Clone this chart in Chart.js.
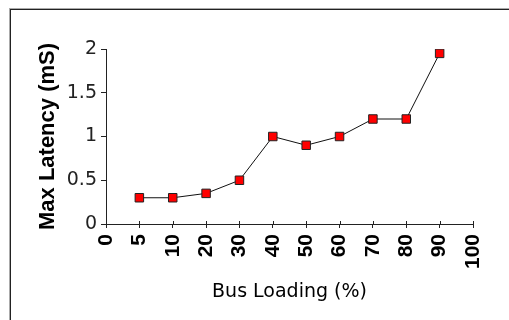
<!DOCTYPE html>
<html>
<head>
<meta charset="utf-8">
<script src="https://cdn.jsdelivr.net/npm/chart.js@4/dist/chart.umd.min.js"></script>
<style>
  html, body { margin: 0; padding: 0; background: #fff; }
  #wrap { position: relative; width: 509px; height: 320px; }
</style>
</head>
<body>
<div id="wrap"><canvas id="latencyChart" width="509" height="320"></canvas></div>
<script>
const busLoading = ['0', '5', '10', '20', '30', '40', '50', '60', '70', '80', '90', '100'];
const maxLatency = [null, 0.3, 0.3, 0.35, 0.5, 1.0, 0.9, 1.0, 1.2, 1.2, 1.95, null];
const yTicks = [0, 0.5, 1, 1.5, 2];

// outer frame, like the old spreadsheet chart box
const framePlugin = {
    id: 'frame',
    beforeDraw(chart) {
        const ctx = chart.ctx;
        ctx.save();
        ctx.fillStyle = '#fff';
        ctx.fillRect(0, 0, chart.width, chart.height);
        ctx.lineWidth = 1;
        ctx.strokeStyle = '#aaa';
        ctx.strokeRect(9.5, 8.5, 700, 500);
        ctx.strokeStyle = '#222';
        ctx.strokeRect(10.5, 9.5, 700, 500);
        ctx.restore();
    },
    afterDraw(chart) {
        // x ticks cross the axis, draw the inner half
        const xs = chart.scales.x;
        const ctx = chart.ctx;
        const y = chart.chartArea.bottom;
        ctx.save();
        ctx.strokeStyle = '#222';
        ctx.lineWidth = 1;
        ctx.beginPath();
        busLoading.forEach((lab, i) => {
            const px = Math.round(xs.getPixelForTick(i)) + 0.5;
            ctx.moveTo(px, y - 3);
            ctx.lineTo(px, y);
        });
        ctx.stroke();
        ctx.restore();
    }
};

new Chart(document.getElementById('latencyChart').getContext('2d'), {
    type: 'line',
    data: {
        labels: busLoading,
        datasets: [{
            label: 'Max Latency',
            data: maxLatency,
            borderColor: '#111',
            borderWidth: 1,
            tension: 0,
            pointStyle: 'rect',
            pointRadius: 6,
            pointHoverRadius: 6,
            pointBackgroundColor: '#ff0000',
            pointBorderColor: '#222',
            pointBorderWidth: 1
        }]
    },
    options: {
        responsive: false,
        animation: false,
        layout: { padding: { left: 0, right: 36, top: 49, bottom: 0 } },
        plugins: {
            legend: { display: false },
            tooltip: { enabled: false }
        },
        scales: {
            x: {
                type: 'category',
                offset: false,
                grid: { display: true, drawOnChartArea: false, tickLength: 4, color: '#222' },
                border: { color: '#222', width: 1 },
                ticks: {
                    autoSkip: false,
                    minRotation: 90,
                    maxRotation: 90,
                    padding: 6,
                    color: '#000',
                    font: { family: 'Liberation Sans', size: 21, weight: 'bold' }
                },
                title: {
                    display: true,
                    text: 'Bus Loading (%)',
                    color: '#000',
                    padding: { top: 0, bottom: 17 },
                    font: { family: 'DejaVu Sans', size: 19 }
                },
                afterFit(scale) { scale.height = 96; }
            },
            y: {
                min: 0,
                max: 2,
                afterBuildTicks(scale) { scale.ticks = yTicks.map(v => ({ value: v })); },
                grid: { display: true, drawOnChartArea: false, tickLength: 5, color: '#222' },
                border: { color: '#222', width: 1 },
                ticks: {
                    padding: 4,
                    color: '#222',
                    font: { family: 'DejaVu Sans', size: 19 },
                    callback: v => String(v)
                },
                title: {
                    display: true,
                    text: 'Max Latency (mS)',
                    color: '#000',
                    padding: { top: 35, bottom: 0 },
                    font: { family: 'Liberation Sans', size: 22, weight: 'bold' }
                },
                afterFit(scale) { scale.width = 106; }
            }
        }
    },
    plugins: [framePlugin]
});
</script>
</body>
</html>
